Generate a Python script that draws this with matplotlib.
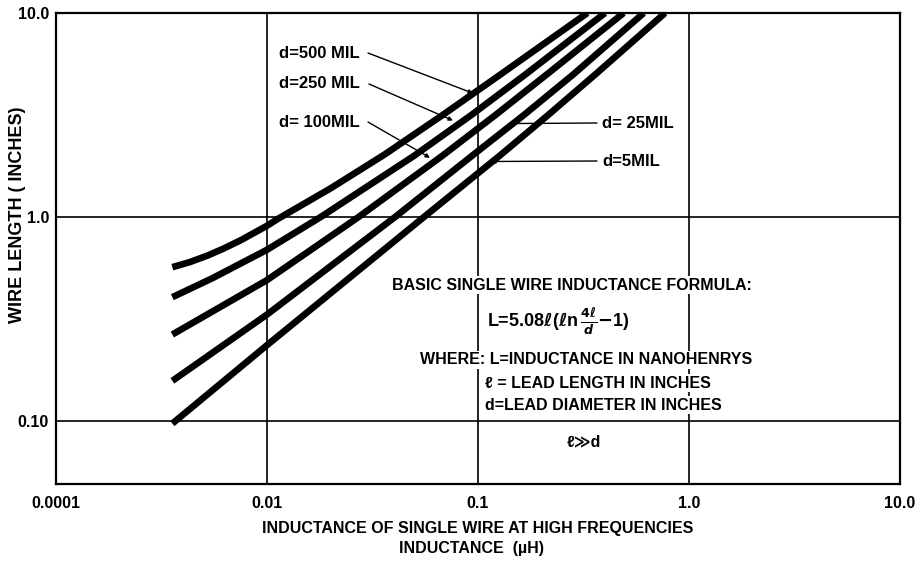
import numpy as np
import matplotlib.pyplot as plt

plt.rcParams['font.family'] = ['Liberation Sans', 'DejaVu Sans']
plt.rcParams['font.weight'] = 'bold'
plt.rcParams['font.size'] = 11

# values: inductance (uH) vs wire length (in)
L_500 = [0.00356, 0.0043, 0.0052, 0.0062, 0.0075, 0.0100, 0.0112, 0.020, 0.036, 0.068, 0.128, 0.33]
l_500 = [0.567, 0.600, 0.645, 0.698, 0.768, 0.905, 0.975, 1.38, 2.02, 3.16, 5.0, 10.0]

L_250 = [0.00356, 0.0055, 0.0100, 0.0180, 0.050, 0.093, 0.168, 0.40]
l_250 = [0.404, 0.50, 0.69, 1.0, 2.0, 3.16, 5.0, 10.0]

L_100 = [0.00356, 0.0100, 0.0272, 0.068, 0.121, 0.212, 0.49]
l_100 = [0.265, 0.49, 1.0, 2.0, 3.16, 5.0, 10.0]

L_25 = [0.00356, 0.0100, 0.0405, 0.094, 0.165, 0.283, 0.61]
l_25 = [0.157, 0.332, 1.0, 2.0, 3.16, 5.0, 10.0]

L_5 = [0.00356, 0.0100, 0.0555, 0.127, 0.215, 0.36, 0.77]
l_5 = [0.097, 0.235, 1.0, 2.0, 3.16, 5.0, 10.0]

x_ticks = [0.001, 0.01, 0.1, 1.0, 10.0]
x_ticklabels = ['0.0001', '0.01', '0.1', '1.0', '10.0']
y_ticks = [0.1, 1.0, 10.0]
y_ticklabels = ['0.10', '1.0', '10.0']

W, H = 922, 561
fig = plt.figure(figsize=(W / 100, H / 100), dpi=100)
ax = fig.add_axes([56 / W, 1 - 484 / H, 844 / W, 471 / H])

for xs, ys in [(L_500, l_500), (L_250, l_250), (L_100, l_100), (L_25, l_25), (L_5, l_5)]:
    ax.plot(xs, ys, color='black', lw=4.8, solid_capstyle='butt', solid_joinstyle='round', zorder=3)

ax.set_xscale('log')
ax.set_yscale('log')
ax.set_xlim(0.001, 10)
ax.set_ylim(0.049, 10)
ax.set_xticks(x_ticks)
ax.set_xticklabels(x_ticklabels)
ax.set_yticks(y_ticks)
ax.set_yticklabels(y_ticklabels)
ax.minorticks_off()
ax.tick_params(length=0, labelsize=11.5)
ax.tick_params(axis='x', pad=9)
ax.tick_params(axis='y', pad=5)
ax.grid(True, color='black', lw=1.2)
for s in ax.spines.values():
    s.set_linewidth(1.6)


def fp(px, py):
    # pixel position from the top-left -> figure fraction
    return px / W, 1 - py / H


fig.text(*fp(18, 215), 'WIRE LENGTH ( INCHES)', rotation=90, ha='center', va='center', fontsize=13)
fig.text(*fp(478, 528), 'INDUCTANCE OF SINGLE WIRE AT HIGH FREQUENCIES', ha='center', va='center', fontsize=11.5)
fig.text(*fp(471, 549), 'INDUCTANCE  (µH)', ha='center', va='center', fontsize=11.5)

# curve labels with leader lines
labels = [
    ('d=500 MIL', (279, 53), (368, 53), (0.0947, 4.04)),
    ('d=250 MIL', (279, 84), (369, 84), (0.0761, 2.97)),
    ('d= 100MIL', (279, 122), (368, 122), (0.0592, 1.95)),
    ('d= 25MIL', (602, 123), (597, 123), (0.1418, 2.87)),
    ('d=5MIL', (602, 162), (597, 161), (0.1153, 1.87)),
]
for txt, tpos, start, tip in labels:
    fig.text(*fp(*tpos), txt, ha='left', va='center', fontsize=12)
    ax.annotate('', xy=tip, xytext=(start[0], H - start[1]), textcoords='figure pixels',
                arrowprops=dict(arrowstyle='-|>', lw=1.0, color='black', mutation_scale=6,
                                shrinkA=0, shrinkB=0), zorder=4)

# formula block
box = dict(facecolor='white', edgecolor='none', pad=1)
fig.text(*fp(572, 285), 'BASIC SINGLE WIRE INDUCTANCE FORMULA:', ha='center', va='center', fontsize=11.5, bbox=box)
fig.text(*fp(487, 322), r'L=5.08$\ell$($\ell$n$\,\frac{4\ell}{d}$$-$1)', ha='left', va='center', fontsize=13)
fig.text(*fp(420, 360), 'WHERE: L=INDUCTANCE IN NANOHENRYS', ha='left', va='center', fontsize=11.5, bbox=box)
fig.text(*fp(485, 383), 'ℓ = LEAD LENGTH IN INCHES', ha='left', va='center', fontsize=11.5, bbox=box)
fig.text(*fp(485, 405), 'd=LEAD DIAMETER IN INCHES', ha='left', va='center', fontsize=11.5, bbox=box)
fig.text(*fp(584, 442), 'ℓ≫d', ha='center', va='center', fontsize=11.5)

fig.savefig('out.png', dpi=100)
